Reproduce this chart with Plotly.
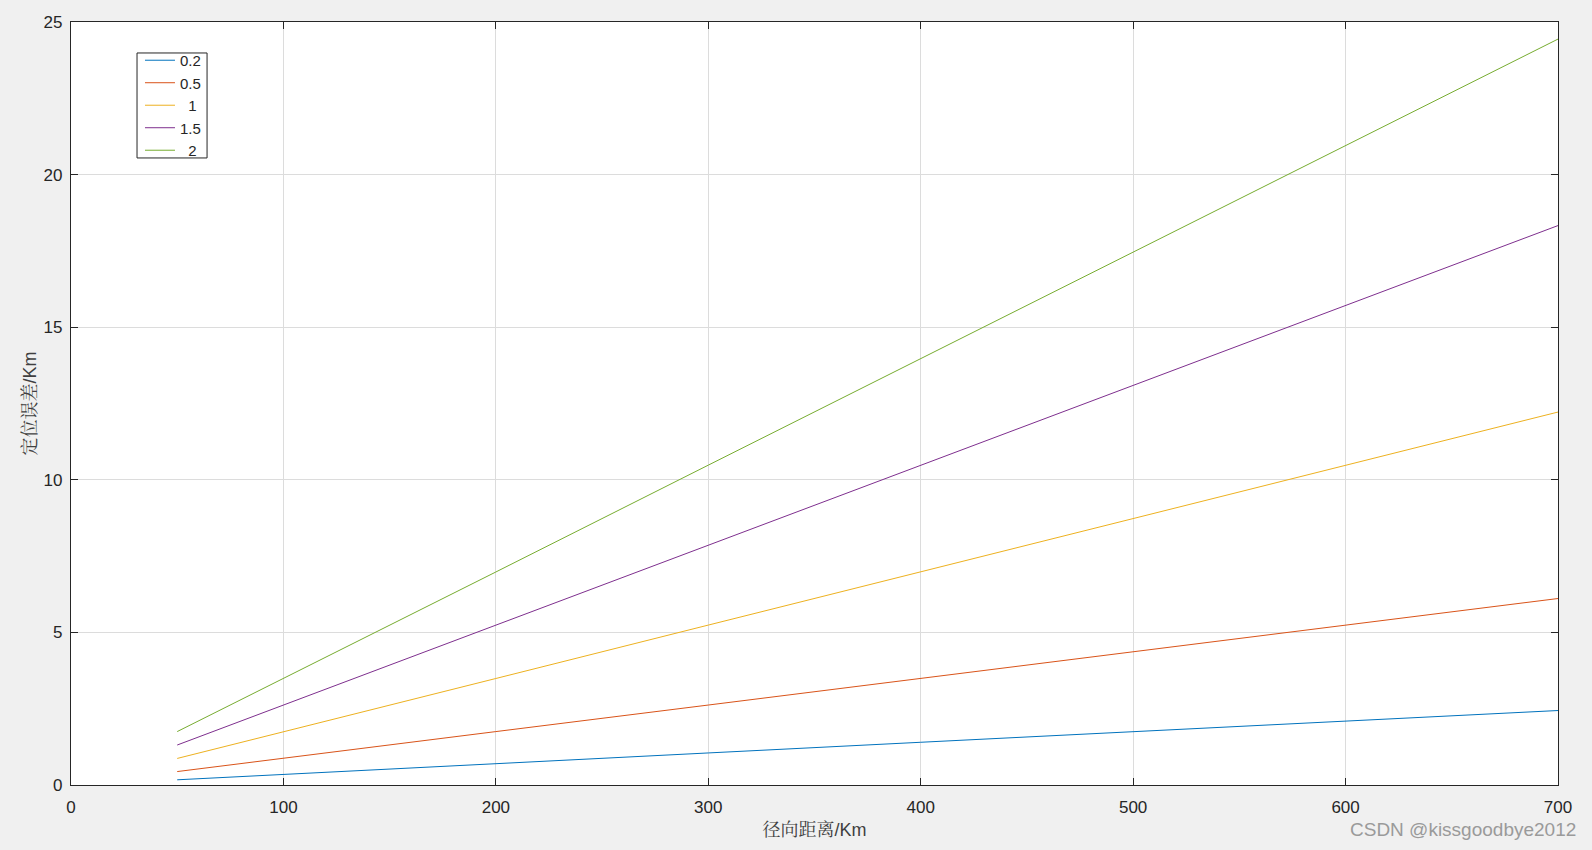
import plotly.graph_objects as go

# Radial distance (Km)
distance = [50, 100, 200, 300, 400, 500, 600, 700]
series_names = ["0.2", "0.5", "1", "1.5", "2"]
err_02 = [0.17, 0.35, 0.70, 1.05, 1.40, 1.75, 2.09, 2.44]
err_05 = [0.44, 0.87, 1.75, 2.62, 3.49, 4.36, 5.24, 6.11]
err_10 = [0.87, 1.75, 3.49, 5.24, 6.98, 8.73, 10.47, 12.22]
err_15 = [1.31, 2.62, 5.24, 7.85, 10.47, 13.09, 15.71, 18.33]
err_20 = [1.75, 3.49, 6.98, 10.48, 13.97, 17.46, 20.95, 24.44]
colors = ["#0072BD", "#D95319", "#EDB120", "#7E2F8E", "#77AC30"]

x_ticks = [0, 100, 200, 300, 400, 500, 600, 700]
y_ticks = [0, 5, 10, 15, 20, 25]


def legend_label(s):
    # centre short labels like MATLAB's legend does
    pad = "\u00a0" * (3 - len(s)) if len(s) < 3 else ""
    return pad + s


fig = go.Figure()
for name, ys, c in zip(series_names, [err_02, err_05, err_10, err_15, err_20], colors):
    fig.add_trace(go.Scatter(x=distance, y=ys, mode="lines", name=legend_label(name),
                             line=dict(color=c, width=1)))

sans = "Liberation Sans, Arial, sans-serif"
cjk = "Noto Serif CJK SC, Noto Sans CJK SC, serif"

axis_common = dict(
    showgrid=True, gridcolor="#dcdcdc", gridwidth=1,
    showline=True, linecolor="#262626", linewidth=1.3, mirror="ticks",
    ticks="inside", ticklen=7, tickcolor="#262626", tickwidth=1,
    zeroline=False,
    tickfont=dict(family=sans, size=17, color="#262626"),
)

fig.update_layout(
    width=1592, height=850,
    paper_bgcolor="#f0f0f0", plot_bgcolor="#ffffff",
    margin=dict(l=71, r=34, t=22, b=65, autoexpand=False),
    showlegend=True,
    legend=dict(
        x=0.0464, y=0.9712, xanchor="left", yanchor="top",
        bgcolor="rgba(0,0,0,0)", borderwidth=0,
        font=dict(family=sans, size=15, color="#262626"),
        tracegroupgap=0, itemwidth=30,
    ),
    xaxis=dict(range=[0, 700], tickvals=x_ticks, ticklabelstandoff=6,
               title=dict(text="径向距离<span style='font-family:Liberation Sans'>/Km</span>", standoff=7,
                          font=dict(family=cjk, size=18, color="#404040")),
               **axis_common),
    yaxis=dict(range=[0, 25], tickvals=y_ticks, ticklabelstandoff=4,
               title=dict(text="定位误差<span style='font-family:Liberation Sans'>/Km</span>", standoff=2,
                          font=dict(family=cjk, size=18, color="#404040")),
               **axis_common),
    shapes=[dict(type="rect", xref="paper", yref="paper",
                 x0=0.0444, x1=0.0915, y0=0.8218, y1=0.9594,
                 line=dict(color="#262626", width=1), fillcolor="#ffffff", layer="below")],
)

fig.add_annotation(text="CSDN @kissgoodbye2012", xref="paper", yref="paper",
                   x=1.0134, y=-0.0583, xanchor="right", yanchor="middle", showarrow=False,
                   font=dict(family=sans, size=19, color="#9a9a9a"))

fig.write_html("out.html", config={"displayModeBar": False},
               post_script="document.body.style.margin='0';document.body.style.padding='0';")
